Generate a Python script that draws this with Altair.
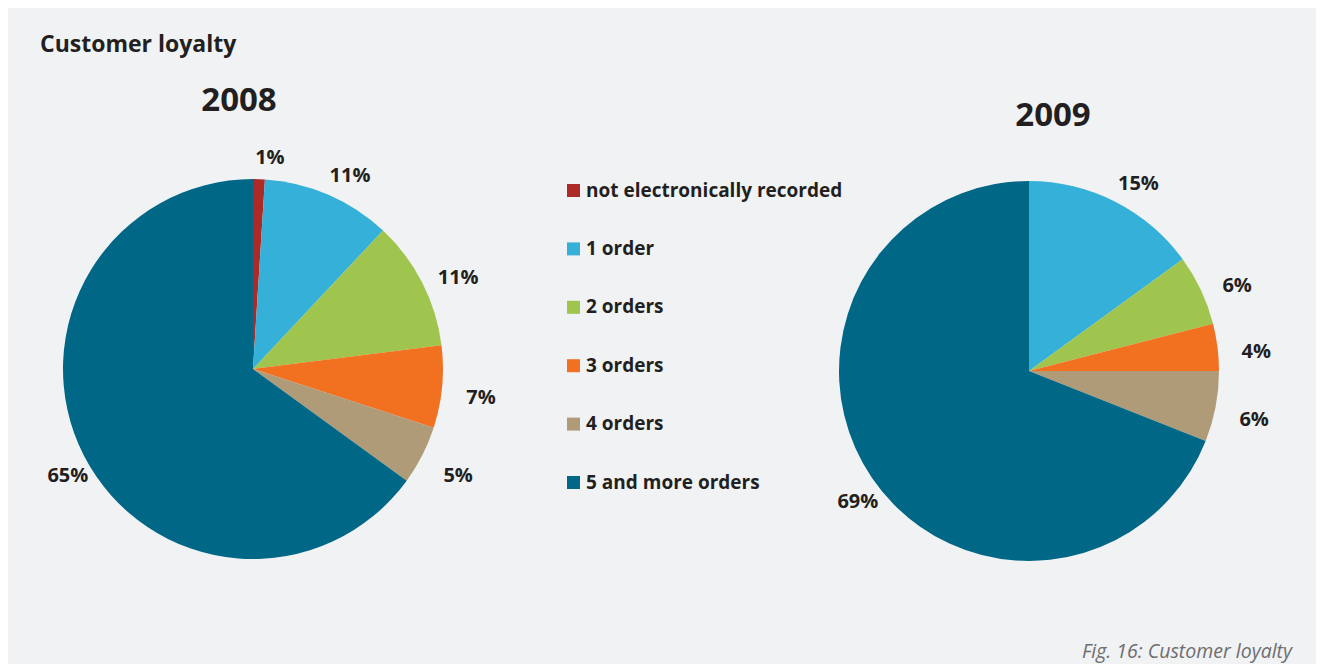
import altair as alt
import pandas as pd

categories = ["not electronically recorded", "1 order", "2 orders", "3 orders", "4 orders", "5 and more orders"]
share_2008 = [1, 11, 11, 7, 5, 65]
share_2009 = [0, 15, 6, 4, 6, 69]
palette = ["#ad2a26", "#35b1d9", "#9fc54e", "#f27121", "#af9b78", "#006786"]
title_text = ["Customer loyalty"]
year_titles = ["2008", "2009"]
footer_text = ["Fig. 16: Customer loyalty"]

FONT = "Open Sans"
INK = "#231f20"
BG = "#f0f2f4"


def frame(values):
    return pd.DataFrame({
        "category": categories,
        "order": list(range(len(categories))),
        "share": values,
        "label": [f"{v}%" for v in values],
    })


color = alt.Color(
    "category:N",
    scale=alt.Scale(domain=categories, range=palette),
    sort=categories,
    legend=alt.Legend(
        title=None,
        orient="none",
        legendX=556,
        legendY=173,
        symbolType="square",
        symbolSize=169,
        symbolStrokeWidth=0,
        labelFont=FONT,
        labelFontSize=19,
        labelFontWeight="bold",
        labelColor=INK,
        labelOffset=3,
        rowPadding=38.4,
        padding=0,
        labelLimit=400,
    ),
)


def pie(values, cx, cy):
    base = alt.Chart(frame(values))
    arcs = base.mark_arc(x=cx, y=cy, outerRadius=190, strokeWidth=0).encode(
        theta=alt.Theta("share:Q", stack=True),
        color=color,
        order=alt.Order("order:Q"),
    )
    labels = base.transform_filter("datum.share > 0").mark_text(
        x=cx, y=cy, radius=219, dx=10, dy=8, font=FONT, fontSize=20, fontWeight="bold", color=INK
    ).encode(
        theta=alt.Theta("share:Q", stack=True),
        detail="category:N",
        order=alt.Order("order:Q"),
        text="label:N",
    )
    return [arcs, labels]


def text_layer(values, x, y, size, weight="bold", style="normal", align="center", col=INK):
    return alt.Chart(pd.DataFrame({"t": values})).mark_text(
        font=FONT, fontSize=size, fontWeight=weight, fontStyle=style, align=align,
        baseline="middle", color=col,
    ).encode(text="t:N", x=alt.value(x), y=alt.value(y))


layers = []
layers += pie(share_2008, 245, 361)
layers += pie(share_2009, 1021, 363)
layers.append(text_layer(title_text, 32, 37, 23, align="left"))
layers.append(text_layer([year_titles[0]], 231, 93, 33))
layers.append(text_layer([year_titles[1]], 1045, 108, 33))
layers.append(text_layer(footer_text, 1284, 644, 19.5, weight="normal", style="italic", align="right", col="#6d6e70"))

chart = alt.layer(*layers).properties(
    width=1308,
    height=656,
    autosize=alt.AutoSizeParams(type="none"),
    padding=0,
    background=BG,
).configure_view(stroke=None)

chart.save("out.html", embed_options={"renderer": "svg", "actions": False})
